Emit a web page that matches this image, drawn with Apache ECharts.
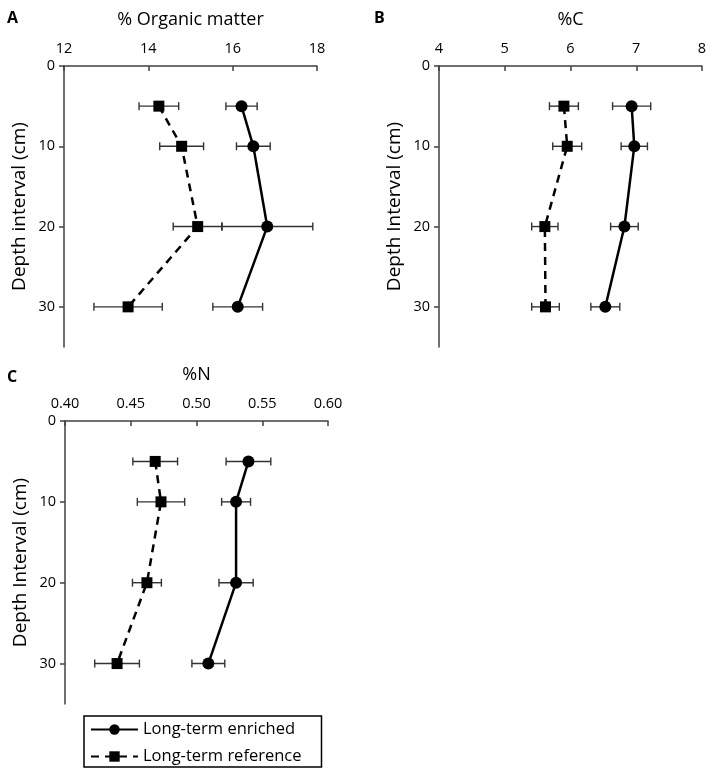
<!DOCTYPE html>
<html>
<head>
<meta charset="utf-8">
<script src="https://cdn.jsdelivr.net/npm/echarts@6/dist/echarts.min.js"></script>
<style>
html,body{margin:0;padding:0;background:#fff;}
#chart{width:714px;height:775px;}
</style>
</head>
<body>
<div id="chart"></div>
<script>
// ---- data ----
const depths = [5, 10, 20, 30];
const depthTicks = [0, 10, 20, 30];

const omEnriched = [16.21, 16.49, 16.82, 16.12];
const omEnrichedErr = [0.37, 0.40, 1.08, 0.59];
const omReference = [14.25, 14.79, 15.17, 13.52];
const omReferenceErr = [0.47, 0.52, 0.58, 0.81];

const cEnriched = [6.93, 6.97, 6.82, 6.53];
const cEnrichedErr = [0.29, 0.20, 0.21, 0.22];
const cReference = [5.90, 5.95, 5.61, 5.62];
const cReferenceErr = [0.22, 0.22, 0.20, 0.21];

const nEnriched = [0.5395, 0.5301, 0.5301, 0.5090];
const nEnrichedErr = [0.017, 0.011, 0.013, 0.0125];
const nReference = [0.4686, 0.4730, 0.4623, 0.4396];
const nReferenceErr = [0.017, 0.018, 0.011, 0.017];

const seriesNames = ['Long-term enriched', 'Long-term reference'];
const panelTitles = ['% Organic matter', '%C', '%N'];
const panelLetters = ['A', 'B', 'C'];
const yNames = ['Depth interval (cm)', 'Depth Interval (cm)', 'Depth Interval (cm)'];

// ---- chart ----
const FONT = 'Open Sans';
const AX = '#404040';
const chart = echarts.init(document.getElementById('chart'));

const panels = [
  {grid: {left: 64, top: 66, width: 253, height: 281}, min: 12, max: 18, interval: 2, dec: 0,
   enr: omEnriched, enrE: omEnrichedErr, ref: omReference, refE: omReferenceErr},
  {grid: {left: 439, top: 66, width: 263, height: 281}, min: 4, max: 8, interval: 1, dec: 0,
   enr: cEnriched, enrE: cEnrichedErr, ref: cReference, refE: cReferenceErr},
  {grid: {left: 65, top: 421, width: 263, height: 283}, min: 0.40, max: 0.60, interval: 0.05, dec: 2,
   enr: nEnriched, enrE: nEnrichedErr, ref: nReference, refE: nReferenceErr}
];

function errRender(params, api) {
  const d = api.value(2);
  const lo = api.coord([api.value(0), d]);
  const hi = api.coord([api.value(1), d]);
  const h = 4;
  const st = {stroke: '#333', lineWidth: 1.4};
  return {type: 'group', children: [
    {type: 'line', shape: {x1: lo[0], y1: lo[1], x2: hi[0], y2: hi[1]}, style: st},
    {type: 'line', shape: {x1: lo[0], y1: lo[1] - h, x2: lo[0], y2: lo[1] + h}, style: st},
    {type: 'line', shape: {x1: hi[0], y1: hi[1] - h, x2: hi[0], y2: hi[1] + h}, style: st}
  ]};
}

const grids = [], xAxes = [], yAxes = [], series = [], graphics = [];
panels.forEach((p, i) => {
  grids.push(p.grid);
  xAxes.push({
    type: 'value', gridIndex: i, position: 'top', min: p.min, max: p.max, interval: p.interval,
    name: panelTitles[i], nameLocation: 'middle', nameGap: 37,
    nameTextStyle: {fontFamily: FONT, fontSize: 18, color: '#000'},
    axisLine: {show: true, lineStyle: {color: AX, width: 1.5}},
    axisTick: {show: true, inside: true, length: 5, lineStyle: {color: AX, width: 1.5}},
    axisLabel: {fontFamily: FONT, fontSize: 14.5, color: '#000', margin: 10,
      formatter: v => v.toFixed(p.dec)},
    splitLine: {show: false}
  });
  yAxes.push({
    type: 'value', gridIndex: i, inverse: true, min: 0, max: 35, interval: 10,
    name: yNames[i], nameLocation: 'middle', nameGap: 35, nameRotate: 90,
    nameTextStyle: {fontFamily: FONT, fontSize: 19, color: '#000'},
    axisLine: {show: true, lineStyle: {color: AX, width: 1.5}},
    axisTick: {show: true, length: 5, customValues: depthTicks, lineStyle: {color: AX, width: 1.5}},
    axisLabel: {fontFamily: FONT, fontSize: 14.5, color: '#000', margin: 9, customValues: depthTicks},
    splitLine: {show: false}
  });
  const errData = (vals, errs) => vals.map((v, k) => [v - errs[k], v + errs[k], depths[k]]);
  series.push({
    type: 'custom', xAxisIndex: i, yAxisIndex: i, renderItem: errRender,
    encode: {x: [0, 1], y: 2}, data: errData(p.enr, p.enrE), z: 1, silent: true
  });
  series.push({
    type: 'custom', xAxisIndex: i, yAxisIndex: i, renderItem: errRender,
    encode: {x: [0, 1], y: 2}, data: errData(p.ref, p.refE), z: 1, silent: true
  });
  series.push({
    name: seriesNames[0], type: 'line', xAxisIndex: i, yAxisIndex: i,
    data: p.enr.map((v, k) => [v, depths[k]]),
    symbol: 'circle', symbolSize: 12,
    lineStyle: {color: '#000', width: 2.5, type: 'solid'},
    itemStyle: {color: '#000'}, z: 3, animation: false
  });
  series.push({
    name: seriesNames[1], type: 'line', xAxisIndex: i, yAxisIndex: i,
    data: p.ref.map((v, k) => [v, depths[k]]),
    symbol: 'rect', symbolSize: 11,
    lineStyle: {color: '#000', width: 2.5, type: [8, 6]},
    itemStyle: {color: '#000'}, z: 3, animation: false
  });
});

const letterPos = [[7, 10], [374, 10], [7, 369]];
letterPos.forEach((pos, i) => {
  graphics.push({type: 'text', left: pos[0], top: pos[1],
    style: {text: panelLetters[i], font: 'bold 16px "Open Sans"', fill: '#000'}});
});

chart.setOption({
  animation: false,
  backgroundColor: '#fff',
  grid: grids,
  xAxis: xAxes,
  yAxis: yAxes,
  series: series,
  graphic: graphics,
  legend: {
    data: seriesNames, orient: 'vertical', left: 84, top: 716,
    itemWidth: 47, itemHeight: 13, itemGap: 10,
    padding: [5, 20, 2, 6],
    borderColor: '#000', borderWidth: 1.5,
    textStyle: {fontFamily: FONT, fontSize: 16.5, color: '#000'}
  }
});
</script>
</body>
</html>
